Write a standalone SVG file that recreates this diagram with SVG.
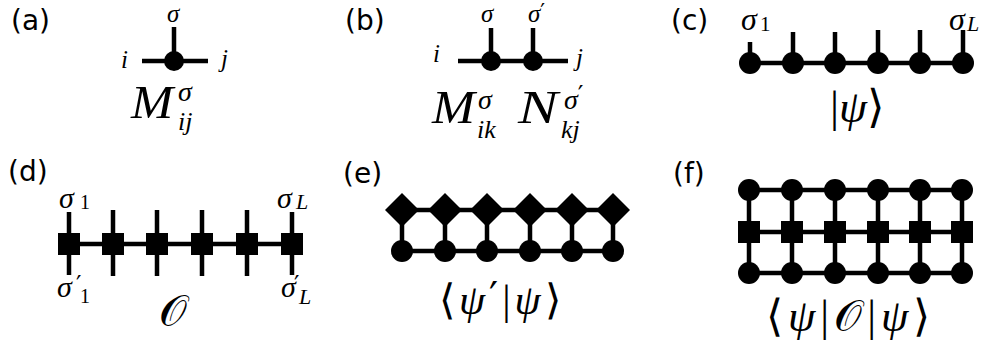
<svg xmlns="http://www.w3.org/2000/svg" xmlns:xlink="http://www.w3.org/1999/xlink" width="993" height="347" viewBox="0 0 993 347">
<style>
.ln{stroke:#000;stroke-width:4.5;fill:none}
text{fill:#000}
</style>
<defs>
<circle id="dotS" r="10" fill="#000"/>
<circle id="dot" r="11" fill="#000"/>
<rect id="sq" x="-11" y="-11" width="22" height="22" fill="#000"/>
<path id="dia" d="M0,-17 L17,0 L0,17 L-17,0Z" fill="#000"/>
</defs>
<rect width="993" height="347" fill="#fff"/>

<g id="panel-labels" font-family="DejaVu Sans, sans-serif" font-size="28">
<text x="11" y="30">(a)</text>
<text x="345" y="30">(b)</text>
<text x="671" y="30">(c)</text>
<text x="8" y="181">(d)</text>
<text x="343" y="183">(e)</text>
<text x="673" y="183">(f)</text>
</g>

<g id="connectors">
<path class="ln" d="M142,61H208M174,27V61"/>
<path class="ln" d="M458,61H568M491,28V61M533,28V61"/>
<path class="ln" d="M750,63H963M750,42V63M793,32V63M835,32V63M878,30V63M920,30V63M963,30V63"/>
<path class="ln" d="M69,244H292M69,212V275M113,210V276M157,210V276M202,210V276M247,210V276M292,212V275"/>
<path class="ln" d="M402,210H613M402,251H613M402,210V251M445,210V251M487,210V251M530,210V251M572,210V251M613,210V251"/>
<path class="ln" d="M749,190H962M749,232H962M749,273H962M749,190V273M792,190V273M835,190V273M878,190V273M920,190V273M962,190V273"/>
</g>

<g id="node-a"><use id="a1" xlink:href="#dotS" x="174" y="61"/></g>
<g id="node-b"><use id="b1" xlink:href="#dotS" x="491" y="61"/><use id="b2" xlink:href="#dotS" x="533" y="61"/></g>
<g id="nodes-c">
<use id="c1" xlink:href="#dot" x="750" y="63"/><use id="c2" xlink:href="#dot" x="793" y="63"/><use id="c3" xlink:href="#dot" x="835" y="63"/>
<use id="c4" xlink:href="#dot" x="878" y="63"/><use id="c5" xlink:href="#dot" x="920" y="63"/><use id="c6" xlink:href="#dot" x="963" y="63"/>
</g>
<g id="nodes-d">
<use id="d1" xlink:href="#sq" x="69" y="244"/><use id="d2" xlink:href="#sq" x="113" y="244"/><use id="d3" xlink:href="#sq" x="157" y="244"/>
<use id="d4" xlink:href="#sq" x="202" y="244"/><use id="d5" xlink:href="#sq" x="247" y="244"/><use id="d6" xlink:href="#sq" x="292" y="244"/>
</g>
<g id="nodes-e">
<use id="e1" xlink:href="#dia" x="402" y="210"/><use id="e2" xlink:href="#dia" x="445" y="210"/><use id="e3" xlink:href="#dia" x="487" y="210"/>
<use id="e4" xlink:href="#dia" x="530" y="210"/><use id="e5" xlink:href="#dia" x="572" y="210"/><use id="e6" xlink:href="#dia" x="613" y="210"/>
<use id="e7" xlink:href="#dot" x="402" y="251"/><use id="e8" xlink:href="#dot" x="445" y="251"/><use id="e9" xlink:href="#dot" x="487" y="251"/>
<use id="e10" xlink:href="#dot" x="530" y="251"/><use id="e11" xlink:href="#dot" x="572" y="251"/><use id="e12" xlink:href="#dot" x="613" y="251"/>
</g>
<g id="nodes-f">
<use id="f1" xlink:href="#dot" x="749" y="190"/><use id="f2" xlink:href="#dot" x="792" y="190"/><use id="f3" xlink:href="#dot" x="835" y="190"/>
<use id="f4" xlink:href="#dot" x="878" y="190"/><use id="f5" xlink:href="#dot" x="920" y="190"/><use id="f6" xlink:href="#dot" x="962" y="190"/>
<use id="f7" xlink:href="#sq" x="749" y="232"/><use id="f8" xlink:href="#sq" x="792" y="232"/><use id="f9" xlink:href="#sq" x="835" y="232"/>
<use id="f10" xlink:href="#sq" x="878" y="232"/><use id="f11" xlink:href="#sq" x="920" y="232"/><use id="f12" xlink:href="#sq" x="962" y="232"/>
<use id="f13" xlink:href="#dot" x="749" y="273"/><use id="f14" xlink:href="#dot" x="792" y="273"/><use id="f15" xlink:href="#dot" x="835" y="273"/>
<use id="f16" xlink:href="#dot" x="878" y="273"/><use id="f17" xlink:href="#dot" x="920" y="273"/><use id="f18" xlink:href="#dot" x="962" y="273"/>
</g>

<g id="math" font-family="Liberation Serif, serif" font-style="italic">
<g id="texts-a">
<text x="167" y="22" font-size="25">σ</text>
<text x="121" y="68" font-size="25">i</text>
<text x="221" y="67" font-size="25">j</text>
<text transform="translate(131,118) scale(1.1,1)" font-size="46">M</text>
<text x="178" y="101" font-size="28">σ<tspan x="178" y="130" font-size="26">ij</tspan></text>
</g>
<g id="texts-b">
<text x="481" y="22" font-size="25">σ</text>
<text x="528" y="22" font-size="25">σ<tspan font-family="DejaVu Sans, sans-serif" font-style="normal" font-size="21" dy="-3">′</tspan></text>
<text x="433" y="62" font-size="25">i</text>
<text x="576" y="66" font-size="25">j</text>
<text transform="translate(432,123) scale(1.12,1)" font-size="46">M</text>
<text x="478" y="109" font-size="28">σ<tspan x="477" y="138" font-size="26">ik</tspan></text>
<text transform="translate(518,123) scale(1.3,1)" font-size="46">N</text>
<text x="564" y="109" font-size="28">σ<tspan font-family="DejaVu Sans, sans-serif" font-style="normal" font-size="25" dy="-6">′</tspan><tspan x="561" y="138" font-size="26">kj</tspan></text>
</g>
<g id="texts-c">
<text x="741" y="30" font-size="32">σ<tspan x="760" y="31" font-size="21" font-style="normal">1</tspan></text>
<text x="949" y="30" font-size="32">σ<tspan x="967" y="31" font-size="22">L</tspan></text>
<text x="830" y="122" font-size="45"><tspan font-style="normal">|</tspan>ψ<tspan font-style="normal">⟩</tspan></text>
</g>
<g id="texts-d">
<text x="59" y="208" font-size="30">σ<tspan x="80" y="209" font-size="20" font-style="normal">1</tspan></text>
<text x="57" y="297" font-size="30">σ<tspan x="76" y="293" font-size="24" font-family="DejaVu Sans, sans-serif" font-style="normal">′</tspan><tspan x="80" y="303" font-size="20" font-style="normal">1</tspan></text>
<text x="277" y="208" font-size="30">σ<tspan x="296" y="209" font-size="22">L</tspan></text>
<text x="281" y="297" font-size="30">σ<tspan x="294" y="293" font-size="24" font-family="DejaVu Sans, sans-serif" font-style="normal">′</tspan><tspan x="299" y="304" font-size="22">L</tspan></text>
<text x="159" y="326" font-size="44" font-family="DejaVu Sans, sans-serif" font-style="normal">𝒪</text>
</g>
<g id="texts-e">
<text x="439" y="314" font-size="42" letter-spacing="4"><tspan font-style="normal">⟨</tspan>ψ<tspan font-family="DejaVu Sans, sans-serif" font-style="normal" font-size="40" dy="-3">′</tspan><tspan font-style="normal" dy="3">|</tspan>ψ<tspan font-style="normal">⟩</tspan></text>
</g>
<g id="texts-f">
<text x="766" y="331" font-size="44" letter-spacing="5"><tspan font-style="normal">⟨</tspan>ψ<tspan font-style="normal">|</tspan><tspan font-family="DejaVu Sans, sans-serif" font-style="normal">𝒪</tspan><tspan font-style="normal">|</tspan>ψ<tspan font-style="normal">⟩</tspan></text>
</g>
</g>
</svg>
